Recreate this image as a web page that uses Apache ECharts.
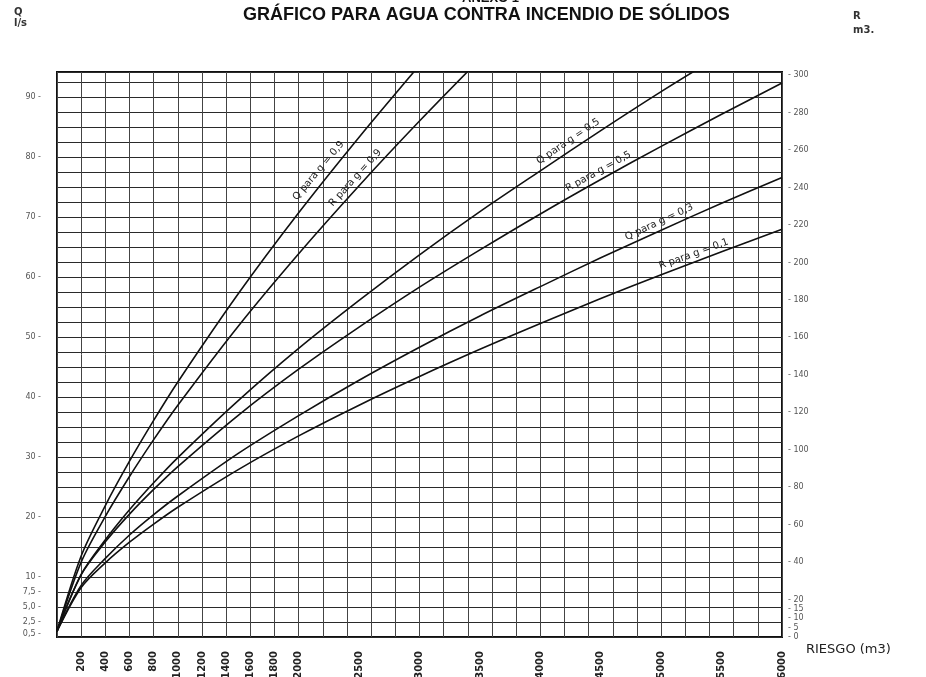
<!DOCTYPE html>
<html>
<head>
<meta charset="utf-8">
<script src="https://cdn.jsdelivr.net/npm/echarts@6/dist/echarts.min.js"></script>
<style>
  html, body { margin: 0; padding: 0; background: #fff; }
  #main { width: 926px; height: 677px; }
</style>
</head>
<body>
<div id="main"></div>
<script>
// eje X: riesgo (m3)
const riesgo = [0, 200, 400, 600, 800, 1000, 1500, 2000, 2500, 3000, 3500, 4000, 4500, 5000, 5500, 6000];

// caudal Q (l/s) - eje izquierdo
const qG09 = [1, 13.5, 21.9, 29.3, 36.1, 42.5, 57.2, 70.7, 83.3, 95.3];
const qG05 = [1, 10.4, 16.2, 21.2, 25.7, 29.9, 39.4, 48.1, 56.1, 63.7, 70.9, 77.7, 84.4, 90.9, 97.1];
const qG03 = [1, 8.6, 13.1, 17.0, 20.4, 23.5, 30.6, 36.9, 42.8, 48.3, 53.5, 58.4, 63.2, 67.8, 72.3, 76.6];

// reserva R (m3) - eje derecho
const rG09 = [3, 40, 64.4, 85.7, 105.4, 123.8, 166, 204.7, 241, 275.5, 308.6];
const rG05 = [3, 33.3, 50.8, 65.6, 78.8, 91.0, 118.4, 143.0, 165.5, 186.8, 206.7, 225.9, 244.3, 262, 279.1, 295.8];
const rG01 = [3, 26.4, 39.6, 50.6, 60.3, 69.3, 89.4, 107.4, 123.8, 139.1, 153.6, 167.4, 180.7, 193.4, 205.7, 217.7];

// etiquetas de los ejes
const xLabels = [200, 400, 600, 800, 1000, 1200, 1400, 1600, 1800, 2000, 2500, 3000, 3500, 4000, 4500, 5000, 5500, 6000];
const qLabels = [0.5, 2.5, 5, 7.5, 10, 20, 30, 40, 50, 60, 70, 80, 90];
const rLabels = [0, 5, 10, 15, 20, 40, 60, 80, 100, 120, 140, 160, 180, 200, 220, 240, 260, 280, 300];

const curveNames = ['Q para g = 0,9', 'R para g = 0,9', 'Q para g = 0,5', 'R para g = 0,5', 'Q para g = 0,3', 'R para g = 0,1'];

// serie con su rotulo inclinado sobre un punto
function curve(name, ys, axis, at, rot, align, dist) {
  const data = ys.map((v, i) => [riesgo[i], v]);
  data[at] = {
    value: data[at],
    symbol: 'circle',
    symbolSize: 1,
    label: {
      show: true,
      formatter: name,
      position: 'top',
      distance: dist,
      rotate: rot,
      align: align,
      color: '#222',
      fontSize: 10,
      fontFamily: 'DejaVu Sans'
    }
  };
  return {
    name: name,
    type: 'line',
    yAxisIndex: axis,
    data: data,
    symbol: 'none',
    smooth: 0.3,
    itemStyle: { color: '#111' },
    lineStyle: { color: '#111', width: 1.6 },
    emphasis: { disabled: true }
  };
}

const chart = echarts.init(document.getElementById('main'));

const option = {
  animation: false,
  backgroundColor: '#fff',
  graphic: [
    { type: 'text', left: 462, top: -8, style: { text: 'ANEXO 1', font: 'bold 13px "Liberation Sans"', fill: '#111' } },
    { type: 'text', left: 243, top: 6, style: { text: 'GRÁFICO PARA AGUA CONTRA INCENDIO DE SÓLIDOS', font: 'bold 18px "Liberation Sans"', fill: '#111' } },
    { type: 'text', left: 14, top: 7, style: { text: 'Q\nl/s', font: 'bold 10px "DejaVu Sans"', fill: '#333', lineHeight: 11 } },
    { type: 'text', left: 853, top: 9, style: { text: 'R\nm3.', font: 'bold 10px "DejaVu Sans"', fill: '#333', lineHeight: 14 } },
    { type: 'text', left: 806, top: 643, style: { text: 'RIESGO (m3)', font: '13px "DejaVu Sans"', fill: '#222' } }
  ],
  grid: {
    left: 57, right: 144, top: 72, bottom: 40,
    outerBoundsMode: 'none',
    show: true,
    borderColor: '#111',
    borderWidth: 2
  },
  xAxis: {
    type: 'value',
    min: 0, max: 6000, interval: 200,
    axisLine: { show: false },
    axisTick: { show: false },
    splitLine: { show: true, lineStyle: { color: '#444', width: 1 } },
    axisLabel: {
      customValues: xLabels,
      rotate: 90,
      margin: 14,
      fontSize: 10,
      fontWeight: 'bold',
      color: '#222',
      fontFamily: 'DejaVu Sans',
      formatter: v => String(v)
    }
  },
  yAxis: [
    {
      type: 'value',
      position: 'left',
      min: 0, max: 94.17, interval: 2.5,
      axisLine: { show: false },
      axisTick: { show: false },
      splitLine: { show: true, lineStyle: { color: '#2a2a2a', width: 1.2 } },
      axisLabel: {
        customValues: qLabels,
        margin: 16,
        fontSize: 8,
        color: '#555',
        fontFamily: 'DejaVu Sans',
        formatter: v => (v < 10 ? v.toFixed(1).replace('.', ',') : v) + ' -'
      }
    },
    {
      type: 'value',
      position: 'right',
      min: 0, max: 301.7,
      axisLine: { show: false },
      axisTick: { show: false },
      splitLine: { show: false },
      axisLabel: {
        customValues: rLabels,
        margin: 6,
        fontSize: 8,
        color: '#555',
        fontFamily: 'DejaVu Sans',
        formatter: v => '- ' + v
      }
    }
  ],
  series: [
    curve(curveNames[0], qG09, 0, 7, 50, 'left', 10),
    curve(curveNames[1], rG09, 1, 8, 48, 'center', 4),
    curve(curveNames[2], qG05, 0, 11, 34, 'left', 4),
    curve(curveNames[3], rG05, 1, 12, 29, 'center', 3),
    curve(curveNames[4], qG03, 0, 13, 25, 'center', 3),
    curve(curveNames[5], rG01, 1, 13, 20, 'left', 3)
  ]
};

chart.setOption(option);
</script>
</body>
</html>
